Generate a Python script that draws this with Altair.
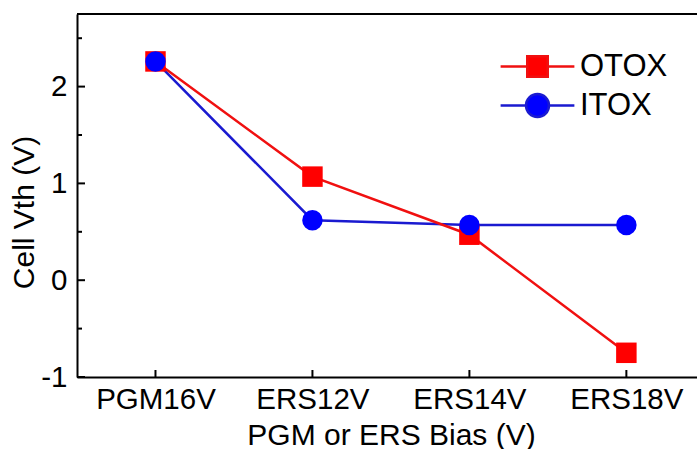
import altair as alt
import pandas as pd

# ---- data ----
categories = ["PGM16V", "ERS12V", "ERS14V", "ERS18V"]
otox = [2.26, 1.07, 0.47, -0.75]
itox = [2.26, 0.62, 0.57, 0.57]
series_names = ["OTOX", "ITOX"]
series_colors = ["#ff0000", "#0000ff"]
line_colors = ["#f01010", "#1a1ad0"]
series_shapes = ["square", "circle"]
y_tick_values = [-1, 0, 1, 2]
y_minor_values = [-0.5, 0.5, 1.5, 2.5]
x_tick_values = [0, 1, 2, 3]

W, H = 620, 363
FONT = "Liberation Sans"

x_scale = alt.Scale(domain=[-0.5, 3.45], nice=False, zero=False)
y_scale = alt.Scale(domain=[-1, 2.75], nice=False, zero=False)

cat_js = "[" + ",".join("'%s'" % c for c in categories) + "]"

x_axis = alt.Axis(values=x_tick_values, labelExpr=cat_js + "[datum.value]",
                  tickSize=0, labelPadding=8, labelFlush=False, labelOverlap=False,
                  labelFont=FONT, labelFontSize=29.5, labelColor="black",
                  domainColor="black", domainWidth=2, grid=False,
                  title="PGM or ERS Bias (V)", titleFont=FONT, titleFontSize=30,
                  titleFontWeight="normal", titleColor="black",
                  titleX=314, titleY=67, titleAlign="center", titleBaseline="alphabetic")

y_axis = alt.Axis(values=y_tick_values, labelExpr="'' + datum.value",
                  tickSize=0, labelPadding=10, labelFlush=False, labelOverlap=False,
                  labelFont=FONT, labelFontSize=29.5, labelColor="black",
                  domainColor="black", domainWidth=2, grid=False,
                  title="Cell Vth (V)", titleFont=FONT, titleFontSize=30,
                  titleFontWeight="normal", titleColor="black",
                  titleX=-53, titleY=198, titleAngle=270, titleAlign="center",
                  titleBaseline="middle")

legend_paths = {
    "square": "M-3.6,0H-1M1,0H3.6M-1,-1H1V1H-1Z",
    "circle": "M-3.6,0H-1.12M1.12,0H3.6M-1.12,0A1.12,1.12,0,1,0,1.12,0A1.12,1.12,0,1,0,-1.12,0Z",
}

frames = {}
for name, vals in zip(series_names, [otox, itox]):
    frames[name] = pd.DataFrame({"series": name, "idx": list(range(len(categories))),
                                 "cat": categories, "vth": vals})

line_layers = {}
point_layers = {}
for k, (name, col, lcol, shp) in enumerate(zip(series_names, series_colors, line_colors, series_shapes)):
    d = frames[name]
    cscale = alt.Scale(domain=[name], range=[col])
    leg = alt.Legend(title=None, orient="none", legendX=445, legendY=37 + 39 * k,
                     padding=0, symbolSize=420, symbolType=legend_paths[shp],
                     symbolStrokeColor=lcol, symbolFillColor=col, symbolStrokeWidth=2.5,
                     symbolOpacity=1, labelOffset=27, labelFont=FONT,
                     labelFontSize=31, labelColor="black")
    line_layers[name] = alt.Chart(d).mark_line(strokeWidth=2.5, color=lcol).encode(
        x=alt.X("idx:Q", scale=x_scale, axis=x_axis),
        y=alt.Y("vth:Q", scale=y_scale, axis=y_axis),
    )
    point_layers[name] = alt.Chart(d).mark_point(filled=True, size=420, opacity=1, shape=shp).encode(
        x=alt.X("idx:Q", scale=x_scale),
        y=alt.Y("vth:Q", scale=y_scale),
        color=alt.Color("series:N", scale=cscale, legend=leg),
    )

# inward ticks and top frame line
ymaj = alt.Chart(pd.DataFrame({"v": y_tick_values})).mark_rule(color="black", strokeWidth=2).encode(
    y=alt.Y("v:Q", scale=y_scale, axis=y_axis), x=alt.value(0), x2=alt.value(8))
ymin = alt.Chart(pd.DataFrame({"v": y_minor_values})).mark_rule(color="black", strokeWidth=2).encode(
    y=alt.Y("v:Q", scale=y_scale), x=alt.value(0), x2=alt.value(5))
xmaj = alt.Chart(pd.DataFrame({"v": x_tick_values})).mark_rule(color="black", strokeWidth=2).encode(
    x=alt.X("v:Q", scale=x_scale, axis=x_axis), y=alt.value(H), y2=alt.value(H - 7))
top = alt.Chart(pd.DataFrame({"v": [0]})).mark_rule(color="black", strokeWidth=2).encode(
    x=alt.value(0), x2=alt.value(W), y=alt.value(0))

chart = alt.layer(
    ymaj, ymin, xmaj, top,
    line_layers["ITOX"], line_layers["OTOX"],
    point_layers["OTOX"], point_layers["ITOX"],
).resolve_scale(color="independent").resolve_legend(color="independent").properties(
    width=W, height=H,
    autosize=alt.AutoSizeParams(type="none"),
    padding={"left": 77, "top": 14, "right": 0, "bottom": 72},
    background="white",
).configure_view(stroke=None)

chart.save("out.html", embed_options={"renderer": "svg", "actions": False})
